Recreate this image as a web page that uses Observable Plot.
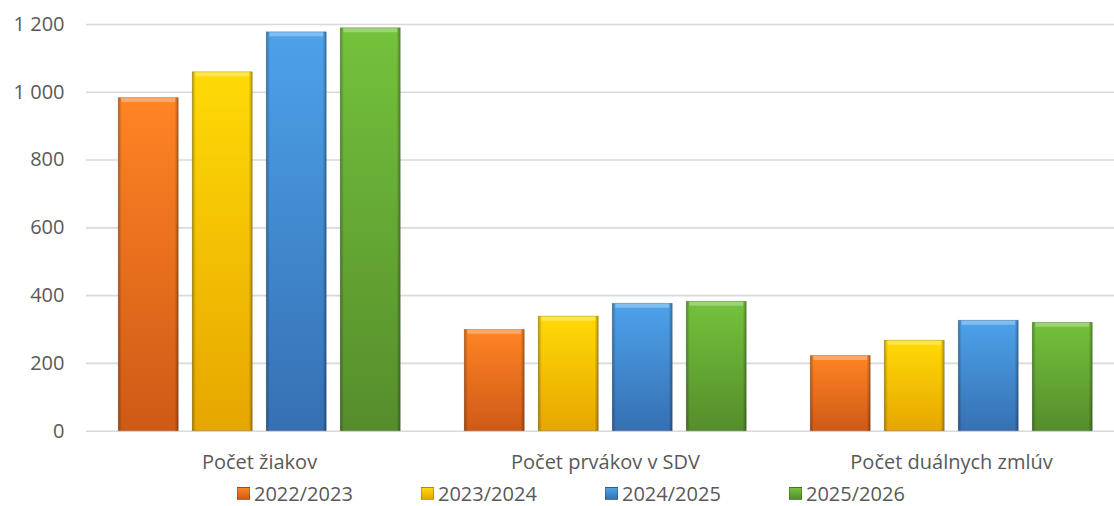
<!DOCTYPE html>
<html>
<head>
<meta charset="utf-8">
<script src="https://cdn.jsdelivr.net/npm/d3@7"></script>
<script src="https://cdn.jsdelivr.net/npm/@observablehq/plot@0.6"></script>
<style>
  html, body { margin: 0; padding: 0; background: #fff; overflow: hidden; width: 1114px; height: 506px; }
  #chart { width: 1114px; overflow: hidden; }
  #chart svg { display: block; max-width: none !important; }
  #legend { height: 26px; line-height: 26px; padding-left: 237px; font-family: "Open Sans", sans-serif; font-size: 20px; color: #595959; white-space: nowrap; }
  .item { display: inline-flex; align-items: center; width: 184px; height: 26px; }
  .sw { display: inline-block; width: 13px; height: 13px; margin-right: 4px; box-sizing: border-box; }
</style>
</head>
<body>
<div id="chart"></div>
<div id="legend"></div>
<script>
// ---- data ----
const categories = ["Počet žiakov", "Počet prvákov v SDV", "Počet duálnych zmlúv"];
const seriesNames = ["2022/2023", "2023/2024", "2024/2025", "2025/2026"];
const values2022 = [983, 299, 222];
const values2023 = [1059, 338, 267];
const values2024 = [1177, 376, 326];
const values2025 = [1189, 382, 320];
const yTicks = [0, 200, 400, 600, 800, 1000, 1200];
const topColors = ["#FF8424", "#FFDA06", "#4DA2EA", "#74C23C"];
const bottomColors = ["#CF5A16", "#E6A600", "#3670B3", "#558D2B"];

const seriesValues = [values2022, values2023, values2024, values2025];
const rows = [];
categories.forEach((c, ci) => {
  seriesNames.forEach((s, si) => rows.push({category: c, series: s, value: seriesValues[si][ci]}));
});

const fmt = d3.formatLocale({decimal: ",", thousands: "\u00a0", grouping: [3], currency: ["", ""]}).format(",d");

const plot = Plot.plot({
  width: 1125,
  height: 480,
  marginLeft: 84.75,
  marginRight: 0,
  marginTop: 24,
  marginBottom: 49.3,
  style: {fontFamily: "Open Sans", fontSize: "20px", color: "#595959", background: "white", maxWidth: "none"},
  facet: {data: rows, x: "category"},
  fx: {domain: categories, padding: 0, axis: "bottom", tickSize: 0, tickPadding: 24, label: null},
  x: {domain: seriesNames, paddingInner: 0.187, paddingOuter: 0.403, axis: null},
  y: {domain: [0, 1200], ticks: yTicks, tickFormat: fmt, tickSize: 0, tickPadding: 22, label: null},
  color: {domain: seriesNames, range: seriesNames.map((d, i) => `url(#grad${i})`)},
  marks: [
    Plot.ruleY(yTicks, {stroke: "#d9d9d9", strokeWidth: 1.6}),
    Plot.barY(rows, {x: "series", y: "value", fill: "series"}),
    Plot.barY(rows, {x: "series", y: "value", fill: "url(#edge)", stroke: "rgba(0,0,0,0.22)", strokeWidth: 0.8}),
    Plot.tickY(rows, {x: "series", y: "value", stroke: "white", strokeOpacity: 0.3, strokeWidth: 4, dy: 2, inset: 3})
  ]
});

const svg = plot.tagName.toLowerCase() === "svg" ? plot : plot.querySelector("svg");
const defs = d3.select(svg).insert("defs", ":first-child");
seriesNames.forEach((s, i) => {
  const g = defs.append("linearGradient").attr("id", `grad${i}`).attr("x1", 0).attr("y1", 0).attr("x2", 0).attr("y2", 1);
  g.append("stop").attr("offset", 0).attr("stop-color", topColors[i]);
  g.append("stop").attr("offset", 1).attr("stop-color", bottomColors[i]);
});
const e = defs.append("linearGradient").attr("id", "edge").attr("x1", 0).attr("y1", 0).attr("x2", 1).attr("y2", 0);
[[0, 0.28], [0.06, 0], [0.94, 0], [1, 0.32]].forEach(([o, a]) =>
  e.append("stop").attr("offset", o).attr("stop-color", "black").attr("stop-opacity", a));

document.getElementById("chart").appendChild(plot);

// ---- legend ----
const legend = d3.select("#legend");
seriesNames.forEach((s, i) => {
  const it = legend.append("span").attr("class", "item");
  it.append("span").attr("class", "sw")
    .style("background", `linear-gradient(${topColors[i]}, ${bottomColors[i]})`)
    .style("border", "1px solid rgba(0,0,0,0.2)");
  it.append("span").text(s);
});
</script>
</body>
</html>
